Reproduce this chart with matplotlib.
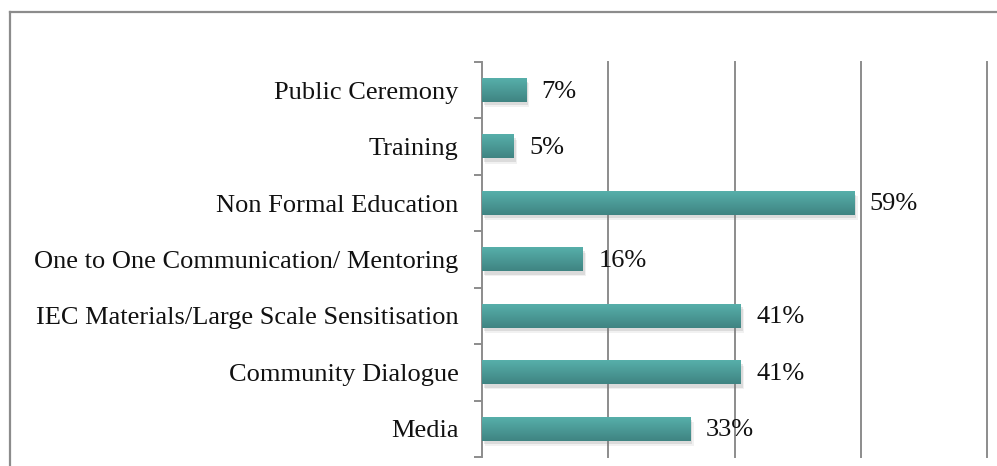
import numpy as np
import matplotlib
matplotlib.use("Agg")
import matplotlib.pyplot as plt
from matplotlib.colors import LinearSegmentedColormap
from matplotlib.lines import Line2D

# data, listed top to bottom as in the chart
categories = ["Public Ceremony", "Training", "Non Formal Education",
              "One to One Communication/ Mentoring",
              "IEC Materials/Large Scale Sensitisation",
              "Community Dialogue", "Media"]
shares = [0.07, 0.05, 0.59, 0.16, 0.41, 0.41, 0.33]
grid_steps = [0.2, 0.4, 0.6, 0.8]

plt.rcParams['font.family'] = ['Liberation Serif', 'DejaVu Serif']

fig = plt.figure(figsize=(9.97, 4.66), dpi=100)
ax = fig.add_axes([0.4835, 0.0193, 0.9900 - 0.4835, 0.867 - 0.0193])

# outer chart frame (top and left edges only, the rest is cropped)
fig.add_artist(Line2D([0.010, 0.010], [0.0, 0.974], transform=fig.transFigure,
                      color='#8c8c8c', lw=1.6))
fig.add_artist(Line2D([0.010, 1.0], [0.974, 0.974], transform=fig.transFigure,
                      color='#8c8c8c', lw=1.6))

ypos = np.arange(len(categories))[::-1]
bar_h = 0.42

# soft shadow under the bars
ax.barh(ypos - 0.06, shares, height=bar_h, left=0.003, color='#7a7a7a',
        alpha=0.18, edgecolor='none', zorder=2)
ax.barh(ypos - 0.09, shares, height=bar_h, left=0.005, color='#7a7a7a',
        alpha=0.10, edgecolor='none', zorder=2)
bars = ax.barh(ypos, shares, height=bar_h, color='#4b9b97', edgecolor='none',
               zorder=3)

cmap = LinearSegmentedColormap.from_list('teal', ['#3f8482', '#57afaa'])
grad = np.linspace(0, 1, 64).reshape(-1, 1)
for p in bars.patches:
    x, y, w, h = p.get_x(), p.get_y(), p.get_width(), p.get_height()
    ax.imshow(grad, extent=[x, x + w, y, y + h], origin='lower', cmap=cmap,
              aspect='auto', zorder=4, interpolation='bilinear')

for y, v in zip(ypos, shares):
    ax.annotate(f"{round(v * 100)}%", (v, y), xytext=(11, -1),
                textcoords='offset points', va='center', ha='left',
                fontsize=19, color='#111111', zorder=5)

ax.set_xlim(0, 0.8)
ax.set_ylim(-0.5, len(categories) - 0.5)

ax.set_yticks(ypos)
ax.set_yticklabels(categories, fontsize=19, color='#111111')
ax.set_yticks(np.arange(len(categories) + 1) - 0.5, minor=True)
ax.tick_params(axis='y', which='major', length=0, pad=17)
ax.tick_params(axis='y', which='minor', length=5.5, width=1.4,
               color='#8c8c8c', direction='out')
ax.set_xticks([])

for g in grid_steps:
    ax.axvline(g, color='#8c8c8c', lw=1.4, zorder=1, clip_on=False)

for s in ['top', 'right', 'bottom']:
    ax.spines[s].set_visible(False)
ax.spines['left'].set_color('#8c8c8c')
ax.spines['left'].set_linewidth(1.4)

fig.savefig('out.png', dpi=100)
